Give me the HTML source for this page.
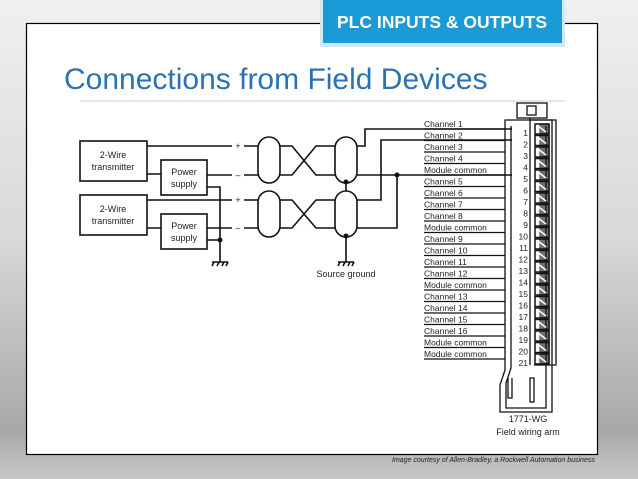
<!DOCTYPE html>
<html><head><style>
html,body{margin:0;padding:0;}
body{width:638px;height:479px;overflow:hidden;background:linear-gradient(#f0f0f0 0%,#d8d8d8 50%,#a8a8a8 90%,#c8c8c8 100%);font-family:"Liberation Sans",sans-serif;position:relative;}
</style></head><body>
<svg width="638" height="479" style="position:absolute;left:0;top:0" font-family="Liberation Sans, sans-serif">
<rect x="26.5" y="23.5" width="571" height="431" fill="#fff" stroke="#000" stroke-width="1.2"/>
<rect x="320" y="0" width="245" height="47" fill="#cfeaf6"/>
<rect x="323" y="0" width="239" height="43" fill="#1a9ad6"/>
<text x="442" y="28" text-anchor="middle" fill="#fff" font-weight="bold" font-size="17.5">PLC INPUTS &amp; OUTPUTS</text>
<text x="64" y="89" fill="#2a72b5" font-size="30">Connections from Field Devices</text>
<line x1="80" y1="101" x2="565" y2="101" stroke="#ccc"/>
<g stroke="#111" stroke-width="1.6" fill="none">
<rect x="80" y="141" width="67" height="40"/>
<rect x="80" y="195" width="67" height="40"/>
<rect x="161" y="160" width="46" height="35"/>
<rect x="161" y="214" width="46" height="35"/>
<path d="M147 146H232M244 146H258"/>
<path d="M147 174H161M207 175H232M244 175H258"/>
<path d="M147 200H232M244 200H258"/>
<path d="M147 228H161M207 228H232M244 228H258"/>
<path d="M207 187H220V262M207 240H220"/>
<rect x="258" y="137" width="22" height="46" rx="11"/>
<rect x="258" y="191" width="22" height="46" rx="11"/>
<rect x="335" y="137" width="22" height="46" rx="11"/>
<rect x="335" y="191" width="22" height="46" rx="11"/>
<path d="M280 146H292L316 175H335M280 175H292L316 146H335"/>
<path d="M280 200H292L316 228H335M280 228H292L316 200H335"/>
<path d="M357 146H365V129H512"/>
<path d="M357 200H381V140H512"/>
<path d="M357 175H512"/>
<path d="M357 228H397V175"/>
<path d="M346 182V191M346 236V262"/>
<path d="M212 262H228M214 262L212 266M219 262L217 266M224 262L222 266M228 262L226 266"/>
<path d="M338 262H354M340 262L338 266M345 262L343 266M350 262L348 266M354 262L352 266"/>
</g>
<g fill="#111"><circle cx="346" cy="182" r="2.5"/><circle cx="346" cy="236" r="2.5"/><circle cx="397" cy="175" r="2.5"/><circle cx="220" cy="240" r="2.5"/></g>
<g font-size="9" fill="#222" text-anchor="middle">
<text x="113" y="158">2-Wire</text><text x="113" y="170">transmitter</text>
<text x="113" y="212">2-Wire</text><text x="113" y="224">transmitter</text>
<text x="184" y="175">Power</text><text x="184" y="187">supply</text>
<text x="184" y="229">Power</text><text x="184" y="241">supply</text>
<text x="238" y="149">+</text><text x="238" y="178">–</text><text x="238" y="203">+</text><text x="238" y="231">–</text>
<text x="346" y="277">Source ground</text>
<text x="528" y="422">1771-WG</text><text x="528" y="435">Field wiring arm</text>
</g>
<g font-size="8.5" fill="#222">
<text x="424" y="127">Channel 1</text><text x="424" y="138.5">Channel 2</text><text x="424" y="150">Channel 3</text><text x="424" y="161.5">Channel 4</text><text x="424" y="173">Module common</text><text x="424" y="184.5">Channel 5</text><text x="424" y="196">Channel 6</text><text x="424" y="207.5">Channel 7</text><text x="424" y="219">Channel 8</text><text x="424" y="230.5">Module common</text><text x="424" y="242">Channel 9</text><text x="424" y="253.5">Channel 10</text><text x="424" y="265">Channel 11</text><text x="424" y="276.5">Channel 12</text><text x="424" y="288">Module common</text><text x="424" y="299.5">Channel 13</text><text x="424" y="311">Channel 14</text><text x="424" y="322.5">Channel 15</text><text x="424" y="334">Channel 16</text><text x="424" y="345.5">Module common</text><text x="424" y="357">Module common</text>
</g>
<g stroke="#111" stroke-width="1.3" fill="none">
<path d="M424 129H505M424 140.5H505M424 152H505M424 163.5H505M424 175H505M424 186.5H505M424 198H505M424 209.5H505M424 221H505M424 232.5H505M424 244H505M424 255.5H505M424 267H505M424 278.5H505M424 290H505M424 301.5H505M424 313H505M424 324.5H505M424 336H505M424 347.5H505M424 359H505"/>
<path d="M505 120V370L500 385V412H552V120Z"/>
<path d="M511 126V368L506 383V408H546V126"/>
<path d="M530 118V365M534 365H556V120H530"/>
<rect x="517" y="103" width="30" height="15"/>
<rect x="527" y="106" width="9" height="9"/>
<path d="M530 378V402H534V378Z M508 378V398H512V378"/>
</g>
<g font-size="8.5" fill="#222" text-anchor="end">
<text x="528" y="136">1</text><text x="528" y="147.5">2</text><text x="528" y="159">3</text><text x="528" y="170.5">4</text><text x="528" y="182">5</text><text x="528" y="193.5">6</text><text x="528" y="205">7</text><text x="528" y="216.5">8</text><text x="528" y="228">9</text><text x="528" y="239.5">10</text><text x="528" y="251">11</text><text x="528" y="262.5">12</text><text x="528" y="274">13</text><text x="528" y="285.5">14</text><text x="528" y="297">15</text><text x="528" y="308.5">16</text><text x="528" y="320">17</text><text x="528" y="331.5">18</text><text x="528" y="343">19</text><text x="528" y="354.5">20</text><text x="528" y="366">21</text>
</g>
<g stroke="#111" stroke-width="1.5" fill="none" id="screws"></g>
<text x="392" y="462" font-size="7" font-style="italic" fill="#222">Image courtesy of Allen-Bradley, a  Rockwell Automation business</text>
</svg>
<script>
var g=document.getElementById('screws'),s='';
for(var i=0;i<21;i++){var y=124+i*11.5;s+='<rect x="535" y="'+y+'" width="14" height="10"/><rect x="540" y="'+y+'" width="9" height="10" fill="#111" opacity="0.6"/><line x1="538" y1="'+(y+2)+'" x2="546" y2="'+(y+8)+'" stroke="#fff"/>';}
g.innerHTML=s;
</script>
</body></html>
